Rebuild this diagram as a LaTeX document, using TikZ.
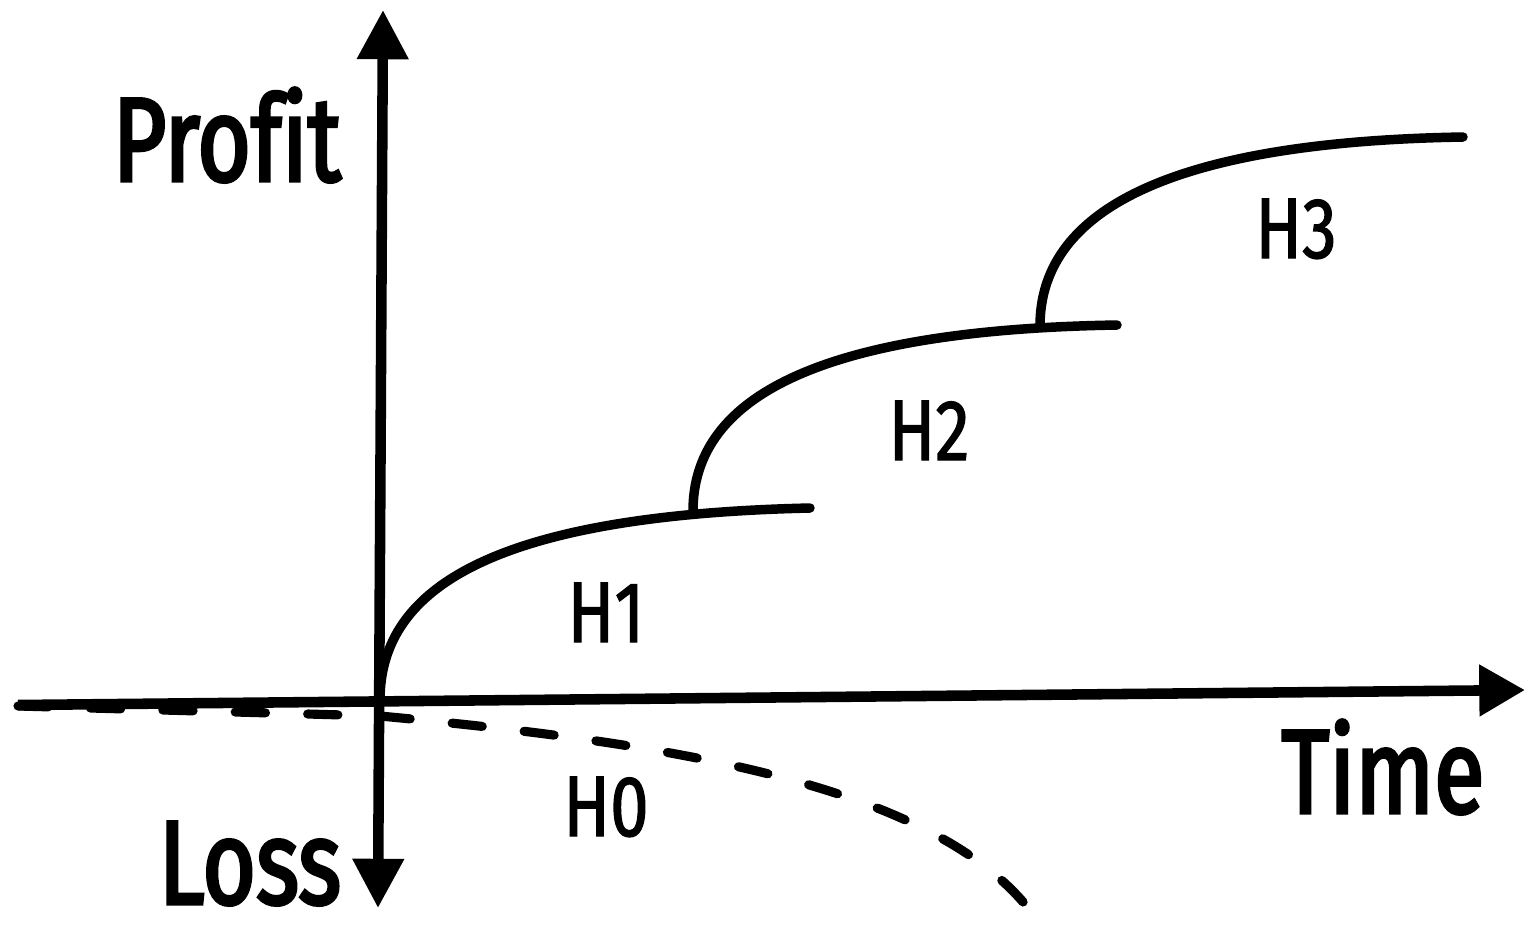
\documentclass[tikz,border=0pt]{standalone}
\usepackage{fontspec}
\newfontfamily\labfont[FakeStretch=0.8, Ligatures=NoCommon]{Fira Sans}
\newfontfamily\bigfont[FakeStretch=0.77, Ligatures=NoCommon]{Fira Sans}
\newcommand\embtext[2]{\special{pdf:literal direct 2 Tr #1 w}#2\special{pdf:literal direct 0 Tr}}
\usetikzlibrary{arrows.meta}
\begin{document}
\begin{tikzpicture}[x=0.01cm,y=-0.01cm,
  axisline/.style={line width=3pt},
  curveline/.style={line width=2.7pt, line cap=round},
  dashline/.style={line width=2.6pt, line cap=round, dash pattern=on 8.6pt off 12pt},
  biglab/.style={font=\bigfont\fontsize{34}{40}\selectfont, anchor=base, inner sep=0pt},
  hlab/.style={font=\labfont\fontsize{24.5}{30}\selectfont, anchor=base, inner sep=0pt}]
\useasboundingbox (0,0) rectangle (1526,926);
\clip (0,0) rectangle (1526,926);
% coordinates
\coordinate (yb) at (378,908);
\coordinate (yt) at (383,10);
\coordinate (xl) at (18,705);
\coordinate (xr) at (1525,690);
\coordinate (d0) at (18,706);
\coordinate (d1) at (380,716);
\coordinate (d2) at (1052,945);
\coordinate (h1s) at (380,700);
\coordinate (h1e) at (810,508);
\coordinate (h2s) at (693,511);
\coordinate (h2e) at (1117,325);
\coordinate (h3s) at (1040,326);
\coordinate (h3e) at (1463,137);
% dashed H0 curve
\draw[dashline] (d0) -- (d1) .. controls (690,745) and (975,790) .. (d2);
% axes
\draw[axisline, {Triangle[width=14pt,length=14pt]}-{Triangle[width=14pt,length=14pt]}] (yb) -- (yt);
\draw[axisline, -{Triangle[width=14pt,length=13pt]}] (xl) -- (xr);
% curves
\draw[curveline] (h1s) .. controls (380,585) and (500,515) .. (h1e);
\draw[curveline] (h2s) .. controls (693,400) and (813,330) .. (h2e);
\draw[curveline] (h3s) .. controls (1040,215) and (1160,142) .. (h3e);
% labels
\node[biglab] (profit) at (227,181) {\embtext{0.9}{Profit}};
\node[biglab] (loss) at (250,904) {\embtext{0.9}{Loss}};
\node[biglab] (time) at (1383,813) {\embtext{0.9}{Time}};
\node[hlab] (H0) at (606,836) {\embtext{0.35}{H0}};
\node[hlab] (H1) at (606,642) {\embtext{0.35}{H1}};
\node[hlab] (H2) at (929,460) {\embtext{0.35}{H2}};
\node[hlab] (H3) at (1296,258) {\embtext{0.35}{H3}};
\end{tikzpicture}
\end{document}
